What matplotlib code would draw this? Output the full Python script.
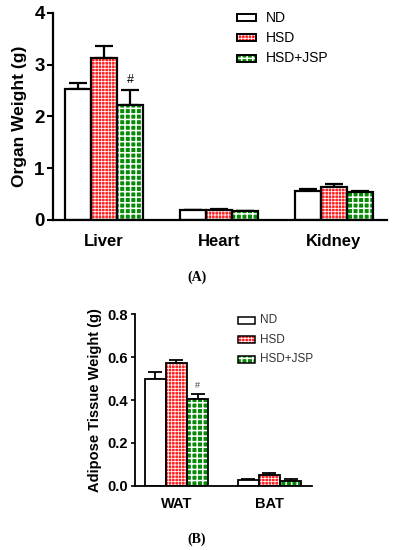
import matplotlib
matplotlib.use("Agg")
import matplotlib.pyplot as plt
import numpy as np

plt.rcParams['font.family'] = ['Liberation Sans', 'DejaVu Sans']

groups = ["ND", "HSD", "HSD+JSP"]

organs = ["Liver", "Heart", "Kidney"]
organ_mean = {
    "ND":      [2.52, 0.19, 0.56],
    "HSD":     [3.13, 0.20, 0.63],
    "HSD+JSP": [2.21, 0.17, 0.54],
}
organ_err = {
    "ND":      [0.13, 0.01, 0.03],
    "HSD":     [0.23, 0.01, 0.07],
    "HSD+JSP": [0.30, 0.01, 0.02],
}
organ_ticks = [0, 1, 2, 3, 4]

tissues = ["WAT", "BAT"]
tissue_mean = {
    "ND":      [0.498, 0.026],
    "HSD":     [0.573, 0.048],
    "HSD+JSP": [0.405, 0.020],
}
tissue_err = {
    "ND":      [0.034, 0.005],
    "HSD":     [0.014, 0.013],
    "HSD+JSP": [0.021, 0.010],
}
tissue_ticks = [0.0, 0.2, 0.4, 0.6, 0.8]

styles = {
    "ND":      dict(face="white", hatch=None, hlw=1.0),
    "HSD":     dict(face="#ff1f1f", hatch="+++++", hlw=0.55),
    "HSD+JSP": dict(face="#078a07", hatch="+++", hlw=1.1),
}

fig = plt.figure(figsize=(3.93, 5.5), dpi=100)

def draw(ax, cats, means, errs, width, capw, lw, elw):
    x = np.arange(len(cats))
    for i, g in enumerate(groups):
        st = styles[g]
        pos = x + (i - 1) * width
        with plt.rc_context({'hatch.linewidth': st["hlw"], 'hatch.color': 'white'}):
            ax.bar(pos, means[g], width, color=st["face"], hatch=st["hatch"],
                   edgecolor="white", linewidth=0, zorder=2)
        ax.bar(pos, means[g], width, fill=False, edgecolor="black", linewidth=lw, zorder=3)
        ax.errorbar(pos, means[g], yerr=[np.zeros(len(cats)), errs[g]], fmt="none",
                    ecolor="black", elinewidth=elw, capsize=capw, capthick=elw, zorder=1)
    return x

# Panel A
ax1 = fig.add_axes([53/393, 1-220/550, (387-53)/393, (220-12.7)/550])
x1 = draw(ax1, organs, organ_mean, organ_err, 0.226, 6.5, 1.6, 1.6)
ax1.set_xlim(-0.443, 2.461)
ax1.set_ylim(0, 4)
ax1.set_yticks(organ_ticks)
ax1.set_yticklabels([str(t) for t in organ_ticks], fontsize=13.5, fontweight="bold")
ax1.set_xticks(x1)
ax1.set_xticklabels(organs, fontsize=12, fontweight="bold")
ax1.tick_params(axis="x", length=0, pad=10)
ax1.tick_params(axis="y", length=4, width=1.5, direction="out", pad=2)
ax1.set_ylabel("Organ Weight (g)", fontsize=12.5, fontweight="bold", labelpad=5)
for s in ["top", "right"]:
    ax1.spines[s].set_visible(False)
for s in ["left", "bottom"]:
    ax1.spines[s].set_linewidth(1.6)
ax1.text(x1[0] + 0.226, organ_mean["HSD+JSP"][0] + organ_err["HSD+JSP"][0] + 0.08, "#",
         ha="center", va="bottom", fontsize=9)

# Panel B
ax2 = fig.add_axes([135/393, 1-485.7/550, (312-135)/393, (485.7-314.3)/550])
x2 = draw(ax2, tissues, tissue_mean, tissue_err, 0.226, 5, 1.3, 1.3)
ax2.set_xlim(-0.446, 1.457)
ax2.set_ylim(0, 0.8)
ax2.set_yticks(tissue_ticks)
ax2.set_yticklabels([f"{t:.1f}" for t in tissue_ticks], fontsize=10.5, fontweight="bold")
ax2.set_xticks(x2)
ax2.set_xticklabels(tissues, fontsize=10.5, fontweight="bold")
ax2.tick_params(axis="x", length=0, pad=8)
ax2.tick_params(axis="y", length=3, width=1.2, direction="out", pad=2)
ax2.set_ylabel("Adipose Tissue Weight (g)", fontsize=10.5, fontweight="bold", labelpad=4)
for s in ["top", "right"]:
    ax2.spines[s].set_visible(False)
for s in ["left", "bottom"]:
    ax2.spines[s].set_linewidth(1.3)
ax2.text(x2[0] + 0.226, tissue_mean["HSD+JSP"][0] + tissue_err["HSD+JSP"][0] + 0.02, "#",
         ha="center", va="bottom", fontsize=6.5, color="#444444")

# Legends (custom)
def legend(rect_x0, rect_x1, ys, text_x, h, fs, tcolor, lw):
    for g, y in zip(groups, ys):
        st = styles[g]
        with plt.rc_context({'hatch.linewidth': st["hlw"], 'hatch.color': 'white'}):
            r = plt.Rectangle((rect_x0/393, 1-(y+h/2)/550), (rect_x1-rect_x0)/393, h/550,
                              transform=fig.transFigure, facecolor=st["face"], hatch=st["hatch"],
                              edgecolor="white", linewidth=0)
        fig.add_artist(r)
        fig.add_artist(plt.Rectangle((rect_x0/393, 1-(y+h/2)/550), (rect_x1-rect_x0)/393, h/550,
                                     transform=fig.transFigure, fill=False, edgecolor="black",
                                     linewidth=lw))
        fig.text(text_x/393, 1-y/550, g, ha="left", va="center", fontsize=fs, color=tcolor)

legend(237, 256, [17.5, 37.7, 58.5], 266, 7, 10, "black", 1.4)
legend(238, 255, [320.3, 339.7, 359], 260, 7, 8.5, "#333333", 1.1)

fig.text(197/393, 1-277/550, "(A)", ha="center", va="center", fontsize=10,
         family=["Liberation Serif", "DejaVu Serif"], fontweight="bold")
fig.text(197/393, 1-539/550, "(B)", ha="center", va="center", fontsize=10,
         family=["Liberation Serif", "DejaVu Serif"], fontweight="bold")

fig.savefig("out.png", dpi=100)
